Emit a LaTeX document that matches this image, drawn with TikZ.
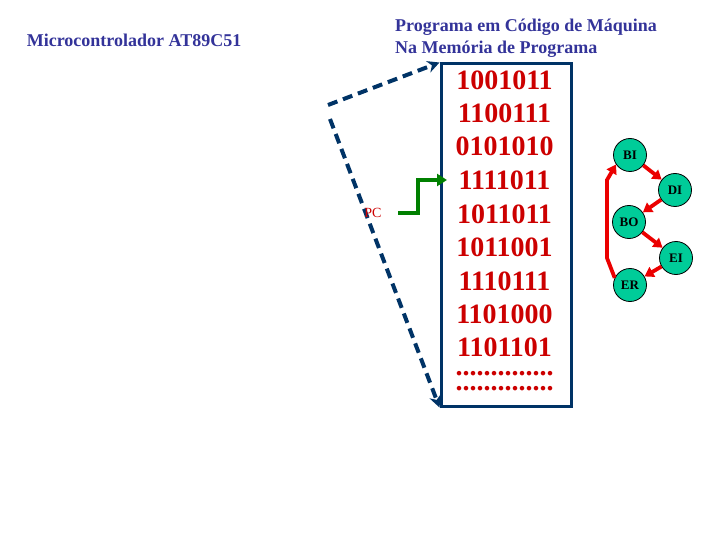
\documentclass[tikz,border=0pt]{standalone}
\usepackage{fontspec}
\setmainfont{Liberation Serif}
\usetikzlibrary{arrows.meta}
\definecolor{titleblue}{RGB}{51,51,153}
\definecolor{boxblue}{RGB}{0,51,102}
\definecolor{binred}{RGB}{204,0,0}
\definecolor{pcgreen}{RGB}{0,128,0}
\definecolor{statefill}{RGB}{0,204,153}
\definecolor{arrred}{RGB}{235,0,0}
\begin{document}
\begin{tikzpicture}[x=1pt,y=-1pt,
 title/.style={font=\fontsize{18}{20}\selectfont\bfseries, text=titleblue, inner sep=0},
 bits/.style={font=\fontsize{28}{30}\selectfont\bfseries, text=binred, inner sep=0},
 dots/.style={bits, text height=4pt, text depth=0pt, anchor=base},
 state/.style={circle, draw=black, line width=0.8pt, fill=statefill, minimum size=33pt, inner sep=0, font=\fontsize{13}{14}\selectfont\bfseries},
 trans/.style={draw=arrred, line width=3.8pt, -{Triangle[length=9pt,width=11pt]}},
 ptr/.style={draw=boxblue, line width=4pt, dash pattern=on 10pt off 6pt, -{Stealth[length=12pt,width=12pt]}},
 pcarrow/.style={draw=pcgreen, line width=4.5pt, line join=miter, -{Triangle[length=10pt,width=12pt]}}
]
\useasboundingbox (0,0) rectangle (720,540);
% titles
\node[title] (mc) at (134,40) {Microcontrolador AT89C51};
\node[title, anchor=west] (t1) at (395,27) {Programa em Código de Máquina};
\node[title, anchor=west] (t2) at (395,49) {Na Memória de Programa};
% memory box
\node[draw=boxblue, line width=3pt, minimum width=130pt, minimum height=342pt, inner sep=0] (mem) at (506,235) {};
% binary lines
\node[bits] (b1) at (504.5,80) {1001011};
\node[bits] (b2) at (504.5,113) {1100111};
\node[bits] (b3) at (504.5,146) {0101010};
\node[bits] (b4) at (504.5,180) {1111011};
\node[bits] (b5) at (504.5,214) {1011011};
\node[bits] (b6) at (504.5,247) {1011001};
\node[bits] (b7) at (504.5,281) {1110111};
\node[bits] (b8) at (504.5,314) {1101000};
\node[bits] (b9) at (504.5,347) {1101101};
\node[dots] (d1) at (504.5,375) {..............};
\node[dots] (d2) at (504.5,390) {..............};
% dashed pointer arrows
\coordinate (p1) at (328,105);
\coordinate (p2) at (330,119);
\draw[ptr] (p1) -- (mem.north west);
\draw[ptr] (p2) -- (mem.south west);
% PC
\node[text=binred, font=\fontsize{14}{16}\selectfont, inner sep=0] (pc) at (373,213) {PC};
\coordinate (pcs) at (398,213);
\coordinate (pcin) at (447,180);
\draw[pcarrow] (pcs) -- (418,213) -- (418,180) -- (pcin);
% states
\node[state] (BI) at (630,155) {BI};
\node[state] (DI) at (675,190) {DI};
\node[state] (BO) at (629,222) {BO};
\node[state] (EI) at (676,258) {EI};
\node[state] (ER) at (630,285) {ER};
\draw[trans] (BI) -- (DI);
\draw[trans] (DI) -- (BO);
\draw[trans] (BO) -- (EI);
\draw[trans] (EI) -- (ER);
\coordinate (a1) at (607,258);
\coordinate (a2) at (607,180);
\draw[trans] (ER.155) -- (a1) -- (a2) -- (BI.214);
\end{tikzpicture}
\end{document}
